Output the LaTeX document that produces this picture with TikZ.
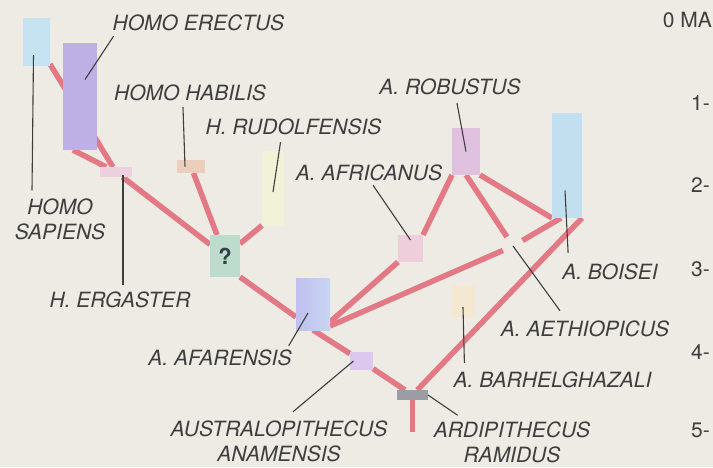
\documentclass[tikz,border=0pt]{standalone}
\usepackage{fontspec}
\setmainfont{TeX Gyre Heros}
\usetikzlibrary{backgrounds}
\definecolor{paper}{RGB}{237,235,228}
\definecolor{branch}{RGB}{228,121,134}
\definecolor{ink}{RGB}{62,62,62}
\definecolor{sapienscol}{RGB}{198,227,242}
\definecolor{erectuscol}{RGB}{190,175,228}
\definecolor{ergastercol}{RGB}{236,208,222}
\definecolor{habiliscol}{RGB}{236,206,188}
\definecolor{rudolfcol}{RGB}{242,242,216}
\definecolor{questioncol}{RGB}{190,220,206}
\definecolor{questionink}{RGB}{48,66,66}
\definecolor{afarleft}{RGB}{192,192,238}
\definecolor{afarright}{RGB}{200,214,242}
\definecolor{anamcol}{RGB}{220,200,238}
\definecolor{ramiduscol}{RGB}{156,156,166}
\definecolor{africol}{RGB}{238,206,218}
\definecolor{robustcol}{RGB}{224,194,224}
\definecolor{boiseicol}{RGB}{194,223,240}
\definecolor{barhelcol}{RGB}{244,233,208}
\begin{document}
\begin{tikzpicture}[x=1pt,y=-1pt,
    box/.style={inner sep=0pt,outer sep=0pt},
    taxon/.style={font=\fontsize{21}{25}\selectfont\itshape,text=ink,inner sep=0pt,align=center},
    agelabel/.style={font=\fontsize{21}{25}\selectfont,text=ink,inner sep=0pt},
    branch line/.style={draw=branch,line width=5.5pt},
    leader/.style={draw=ink,line width=1.1pt}]
    \useasboundingbox (0,0) rectangle (713,467);
    % boxes
    \node[box,fill=sapienscol,minimum width=27,minimum height=48] (sapiens) at (36.5,42) {};
    \node[box,fill=erectuscol,minimum width=34,minimum height=107] (erectus) at (80,96.5) {};
    \node[box,fill=ergastercol,minimum width=32,minimum height=10] (ergaster) at (116,172) {};
    \node[box,fill=habiliscol,minimum width=28,minimum height=13] (habilis) at (191,166.5) {};
    \node[box,fill=rudolfcol,minimum width=22,minimum height=75] (rudolfensis) at (273,188) {};
    \node[box,fill=questioncol,minimum width=30,minimum height=42,text=questionink,
        font=\fontsize{22}{22}\selectfont\bfseries] (question) at (225,256) {?};
    \node[box,left color=afarleft,right color=afarright,minimum width=34,minimum height=52] (afarensis) at (313,304) {};
    \node[box,fill=anamcol,minimum width=23,minimum height=18] (anamensis) at (361.5,361) {};
    \node[box,fill=ramiduscol,minimum width=31,minimum height=10] (ramidus) at (412.5,395) {};
    \node[box,fill=africol,minimum width=25,minimum height=27] (africanus) at (410.5,248.5) {};
    \node[box,fill=robustcol,minimum width=28,minimum height=47] (robustus) at (466,151.5) {};
    \node[box,fill=boiseicol,minimum width=30,minimum height=105] (boisei) at (567,165.5) {};
    \node[box,fill=barhelcol,minimum width=23,minimum height=32] (barhelghazali) at (463.5,301) {};
    \node[box,circle,minimum size=22] (aethiopicus) at (513,246) {};
    \coordinate (root) at (412.5,432);
    % labels
    \node[taxon] (erectus text) at (198.5,23) {HOMO ERECTUS};
    \node[taxon] (sapiens text) at (60,219) {HOMO\\SAPIENS};
    \node[taxon] (habilis text) at (190,93) {HOMO HABILIS};
    \node[taxon] (rudolfensis text) at (293.5,127) {H. RUDOLFENSIS};
    \node[taxon] (ergaster text) at (120,300) {H. ERGASTER};
    \node[taxon] (afarensis text) at (220,358) {A. AFARENSIS};
    \node[taxon] (anamensis text) at (279,441.5) {AUSTRALOPITHECUS\\ANAMENSIS};
    \node[taxon] (ramidus text) at (512,442) {ARDIPITHECUS\\RAMIDUS};
    \node[taxon] (africanus text) at (369,173) {A. AFRICANUS};
    \node[taxon] (robustus text) at (450,87) {A. ROBUSTUS};
    \node[taxon] (boisei text) at (610,272) {A. BOISEI};
    \node[taxon] (aethiopicus text) at (585,329) {A. AETHIOPICUS};
    \node[taxon] (barhelghazali text) at (552.5,380) {A. BARHELGHAZALI};
    % time scale
    \node[agelabel,anchor=east] (age0) at (712,20) {0 MA};
    \node[agelabel,anchor=west] (age1) at (691,103) {1-};
    \node[agelabel,anchor=west] (age2) at (691,185) {2-};
    \node[agelabel,anchor=west] (age3) at (691,269) {3-};
    \node[agelabel,anchor=west] (age4) at (691,352) {4-};
    \node[agelabel,anchor=west] (age5) at (691,430) {5-};
    % branches
    \begin{pgfonlayer}{background}
        \fill[paper] (0,0) rectangle (713,467);
        \draw[branch line] (sapiens) -- (ergaster);
        \draw[branch line] ([shift={(-7,0)}]erectus.south) -- (ergaster);
        \draw[branch line] (ergaster) -- (question);
        \draw[branch line] (habilis) -- (question);
        \draw[branch line] (question) -- (rudolfensis.south west);
        \draw[branch line] (question.south east) -- ([shift={(0,13)}]afarensis.west);
        \draw[branch line] (afarensis.south) -- (anamensis);
        \draw[branch line] (anamensis) -- (ramidus);
        \draw[branch line] (ramidus) -- (root);
        \draw[branch line] (ramidus) -- (boisei.south east);
        \draw[branch line] ([shift={(0,18)}]afarensis.east) -- (africanus.south west);
        \draw[branch line] ([shift={(0,22)}]afarensis.east) -- (aethiopicus);
        \draw[branch line] (africanus.north east) -- (robustus.south west);
        \draw[branch line] (robustus.south) -- (aethiopicus);
        \draw[branch line] (robustus.south east) -- (boisei.south west);
        \draw[branch line] (aethiopicus) -- ([shift={(-6,0)}]boisei.south);
    \end{pgfonlayer}
    % leaders
    \draw[leader] ([shift={(1,5)}]erectus text.south west) -- ([shift={(5,-17)}]erectus.center);
    \draw[leader] ([shift={(-3,13)}]sapiens.center) -- ([shift={(-28,-8)}]sapiens text.north);
    \draw[leader] ([shift={(-7,6)}]habilis text.south) -- ([shift={(-6,0)}]habilis.center);
    \draw[leader] ([shift={(-13,7)}]rudolfensis text.south) -- ([shift={(0,4)}]rudolfensis.center);
    \draw[leader] ([shift={(7,3)}]ergaster.center) -- ([shift={(3,-7)}]ergaster text.north);
    \draw[leader] ([shift={(-3,-4)}]afarensis text.north east) -- ([shift={(-5,9)}]afarensis.center);
    \draw[leader] ([shift={(14,-9)}]anamensis text.north) -- ([shift={(-8,0)}]anamensis.center);
    \draw[leader] (ramidus.east) -- ([shift={(24,-6)}]ramidus text.north west);
    \draw[leader] ([shift={(4,4)}]africanus text.south) -- ([shift={(0,5)}]africanus.north);
    \draw[leader] ([shift={(7,8)}]robustus text.south) -- (robustus.center);
    \draw[leader] ([shift={(6,-11)}]boisei text.north west) -- ([shift={(-2,25)}]boisei.center);
    \draw[leader] ([shift={(-25,-10)}]aethiopicus text.north) -- (aethiopicus.center);
    \draw[leader] ([shift={(11,-9)}]barhelghazali text.north west) -- ([shift={(-0.5,6)}]barhelghazali.center);
\end{tikzpicture}
\end{document}
